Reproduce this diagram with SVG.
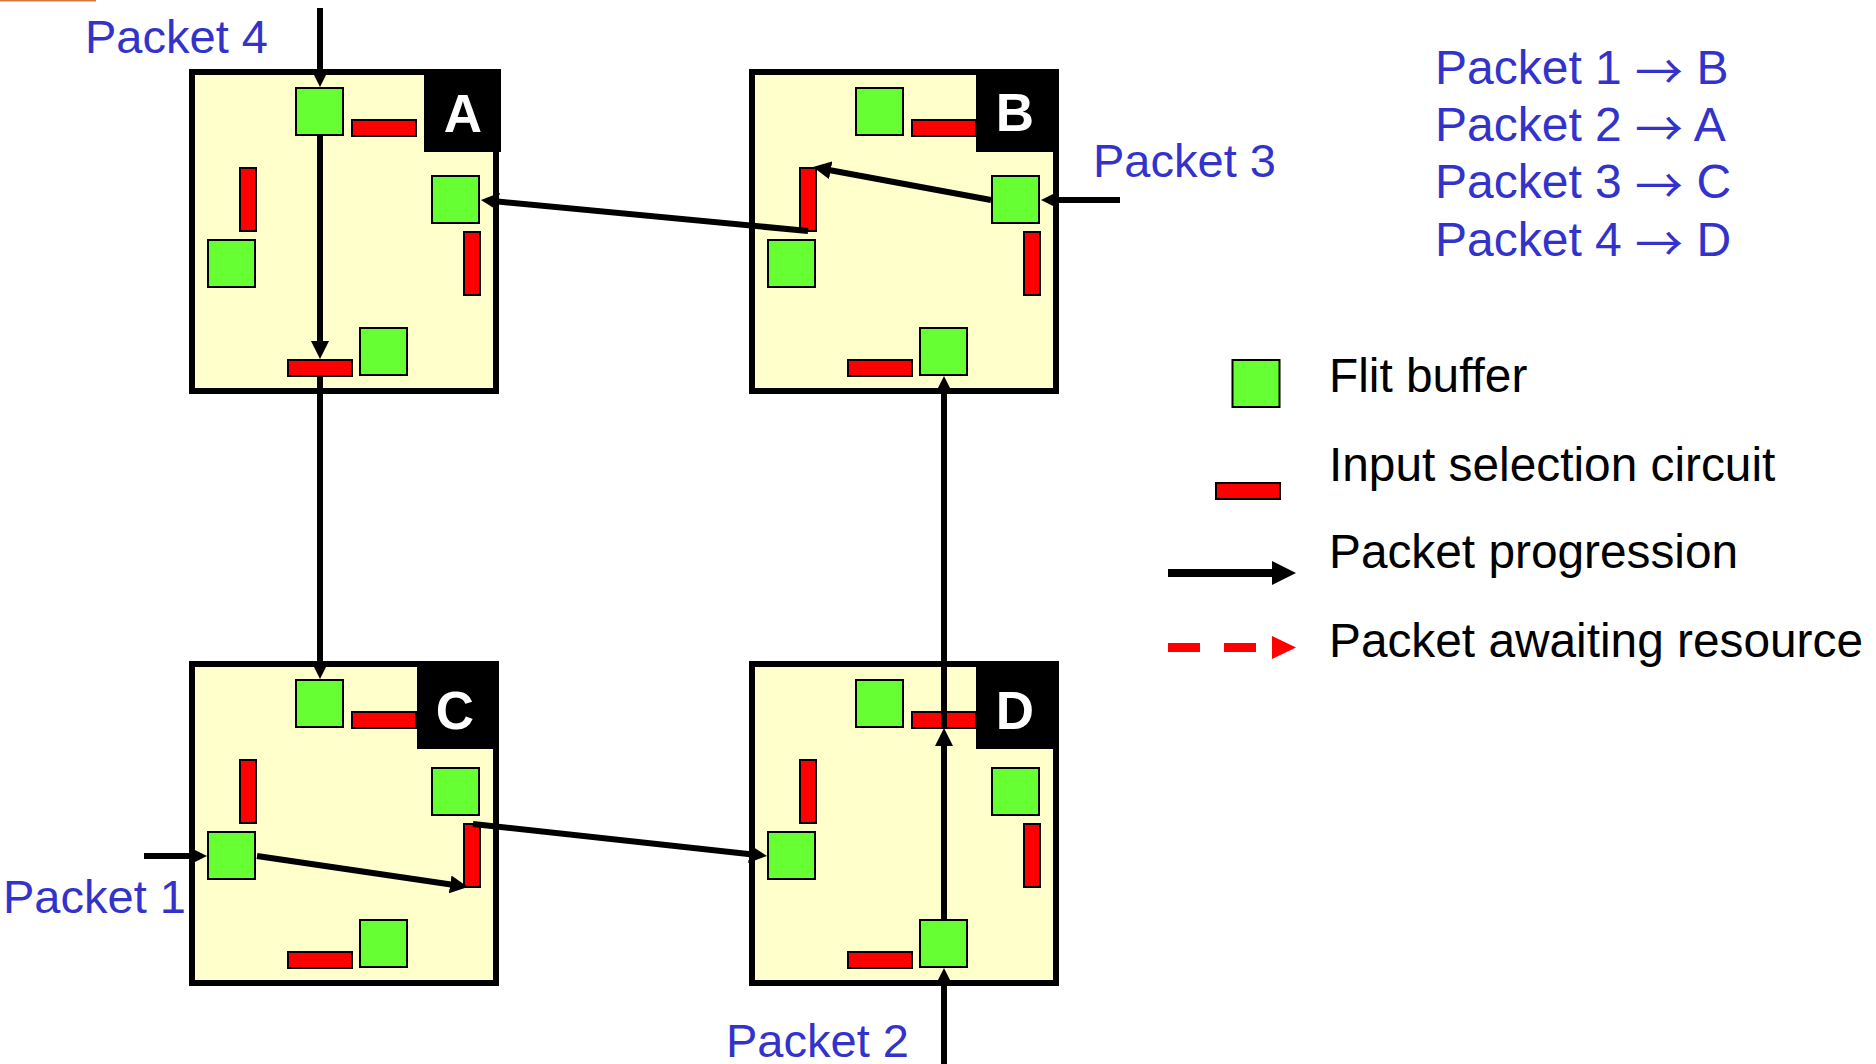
<svg xmlns="http://www.w3.org/2000/svg" xmlns:xlink="http://www.w3.org/1999/xlink" width="1876" height="1064" viewBox="0 0 1876 1064">
  <style>
    .frame { fill: #FFFFCC; stroke: #000; stroke-width: 6; }
    .buf { fill: #66FF33; stroke: #000; stroke-width: 2; }
    .sel { fill: #FF0000; stroke: #000; stroke-width: 2; }
    .tag { fill: #000; }
    .tagtxt { font-family: "Liberation Sans", Arial, sans-serif; font-weight: bold; font-size: 53px; fill: #fff; text-anchor: middle; }
    .blue { font-family: "Liberation Sans", Arial, sans-serif; font-size: 47px; fill: #3333CC; }
    .list { font-family: "Liberation Sans", Arial, sans-serif; font-size: 48px; fill: #3333CC; }
    .arr { font-family: "Noto Sans CJK SC", sans-serif; font-size: 48px; }
    .legend { font-family: "Liberation Sans", Arial, sans-serif; font-size: 47.8px; fill: #000; }
    .flow { fill: none; stroke: #000; stroke-width: 6; marker-end: url(#head); }
  </style>
  <defs>
    <marker id="head" markerUnits="userSpaceOnUse" markerWidth="18" markerHeight="18" refX="6" refY="9" orient="auto">
      <path d="M0,0 L18,9 L0,18 Z" fill="#000"/>
    </marker>
    <!-- router body: frame, four flit buffers, four input selection circuits -->
    <g id="router">
      <rect class="frame" x="3" y="3" width="304" height="319"/>
      <rect class="buf" x="107" y="19" width="47" height="47"/>
      <rect class="sel" x="163" y="51" width="64" height="16"/>
      <rect class="sel" x="51" y="99" width="16" height="63"/>
      <rect class="buf" x="19" y="171" width="47" height="47"/>
      <rect class="buf" x="243" y="107" width="47" height="47"/>
      <rect class="sel" x="275" y="163" width="16" height="63"/>
      <rect class="buf" x="171" y="259" width="47" height="47"/>
      <rect class="sel" x="99" y="291" width="64" height="16"/>
    </g>
  </defs>

  <rect x="0" y="0" width="96" height="1.5" fill="#D9773F"/>

  <g id="router-A">
    <use xlink:href="#router" href="#router" x="189" y="69"/>
    <rect class="tag" x="424" y="69" width="77" height="83"/>
    <text class="tagtxt" x="463" y="132">A</text>
  </g>
  <g id="router-B">
    <use xlink:href="#router" href="#router" x="749" y="69"/>
    <rect class="tag" x="976" y="69" width="83" height="83"/>
    <text class="tagtxt" x="1015" y="131">B</text>
  </g>
  <g id="router-C">
    <use xlink:href="#router" href="#router" x="189" y="661"/>
    <rect class="tag" x="417" y="661" width="82" height="88"/>
    <text class="tagtxt" x="455" y="729">C</text>
  </g>
  <g id="router-D">
    <use xlink:href="#router" href="#router" x="749" y="661"/>
    <rect class="tag" x="976" y="661" width="83" height="88"/>
    <text class="tagtxt" x="1015" y="729">D</text>
  </g>

  <g id="connectors">
    <!-- packet 4 -->
    <line class="flow" x1="320" y1="8" x2="320" y2="75"/>
    <line class="flow" x1="320" y1="136" x2="320" y2="347"/>
    <line class="flow" x1="320" y1="377" x2="320" y2="667"/>
    <!-- packet 1 -->
    <line class="flow" x1="144" y1="856" x2="195" y2="856"/>
    <line class="flow" x1="257" y1="856" x2="456.1" y2="885.3"/>
    <line class="flow" x1="473" y1="824" x2="755.1" y2="854.7"/>
    <!-- packet 2 -->
    <line class="flow" x1="944" y1="1064" x2="944" y2="980"/>
    <line class="flow" x1="944" y1="919" x2="944" y2="740"/>
    <line class="flow" x1="944" y1="728" x2="944" y2="388"/>
    <!-- packet 3 -->
    <line class="flow" x1="1120" y1="200" x2="1053" y2="200"/>
    <line class="flow" x1="991" y1="200" x2="824.8" y2="169.2"/>
    <line class="flow" x1="808" y1="231" x2="492.9" y2="201.1"/>
  </g>

  <g id="packet-labels">
    <text class="blue" x="85" y="53">Packet 4</text>
    <text class="blue" x="1093" y="177">Packet 3</text>
    <text class="blue" x="3" y="913">Packet 1</text>
    <text class="blue" x="726" y="1057">Packet 2</text>
  </g>

  <g id="destinations">
    <text class="list" x="1435" y="84">Packet 1 <tspan class="arr" dy="5">→</tspan><tspan dy="-5"> B</tspan></text>
    <text class="list" x="1435" y="141">Packet 2 <tspan class="arr" dy="5">→</tspan><tspan dy="-5"> A</tspan></text>
    <text class="list" x="1435" y="198">Packet 3 <tspan class="arr" dy="5">→</tspan><tspan dy="-5"> C</tspan></text>
    <text class="list" x="1435" y="256">Packet 4 <tspan class="arr" dy="5">→</tspan><tspan dy="-5"> D</tspan></text>
  </g>

  <g id="legend">
    <rect class="buf" x="1232.5" y="360" width="47" height="47"/>
    <text class="legend" x="1329" y="392">Flit buffer</text>
    <rect class="sel" x="1216" y="483" width="64" height="16"/>
    <text class="legend" x="1329" y="481">Input selection circuit</text>
    <line x1="1168" y1="573" x2="1274" y2="573" stroke="#000" stroke-width="8"/>
    <polygon points="1272,561 1296,573 1272,585" fill="#000"/>
    <text class="legend" x="1329" y="568">Packet progression</text>
    <line x1="1168" y1="647.5" x2="1256" y2="647.5" stroke="#FF0000" stroke-width="9" stroke-dasharray="32 24"/>
    <polygon points="1272,636 1296,647.5 1272,659" fill="#FF0000"/>
    <text class="legend" x="1329" y="657">Packet awaiting resource</text>
  </g>
</svg>
